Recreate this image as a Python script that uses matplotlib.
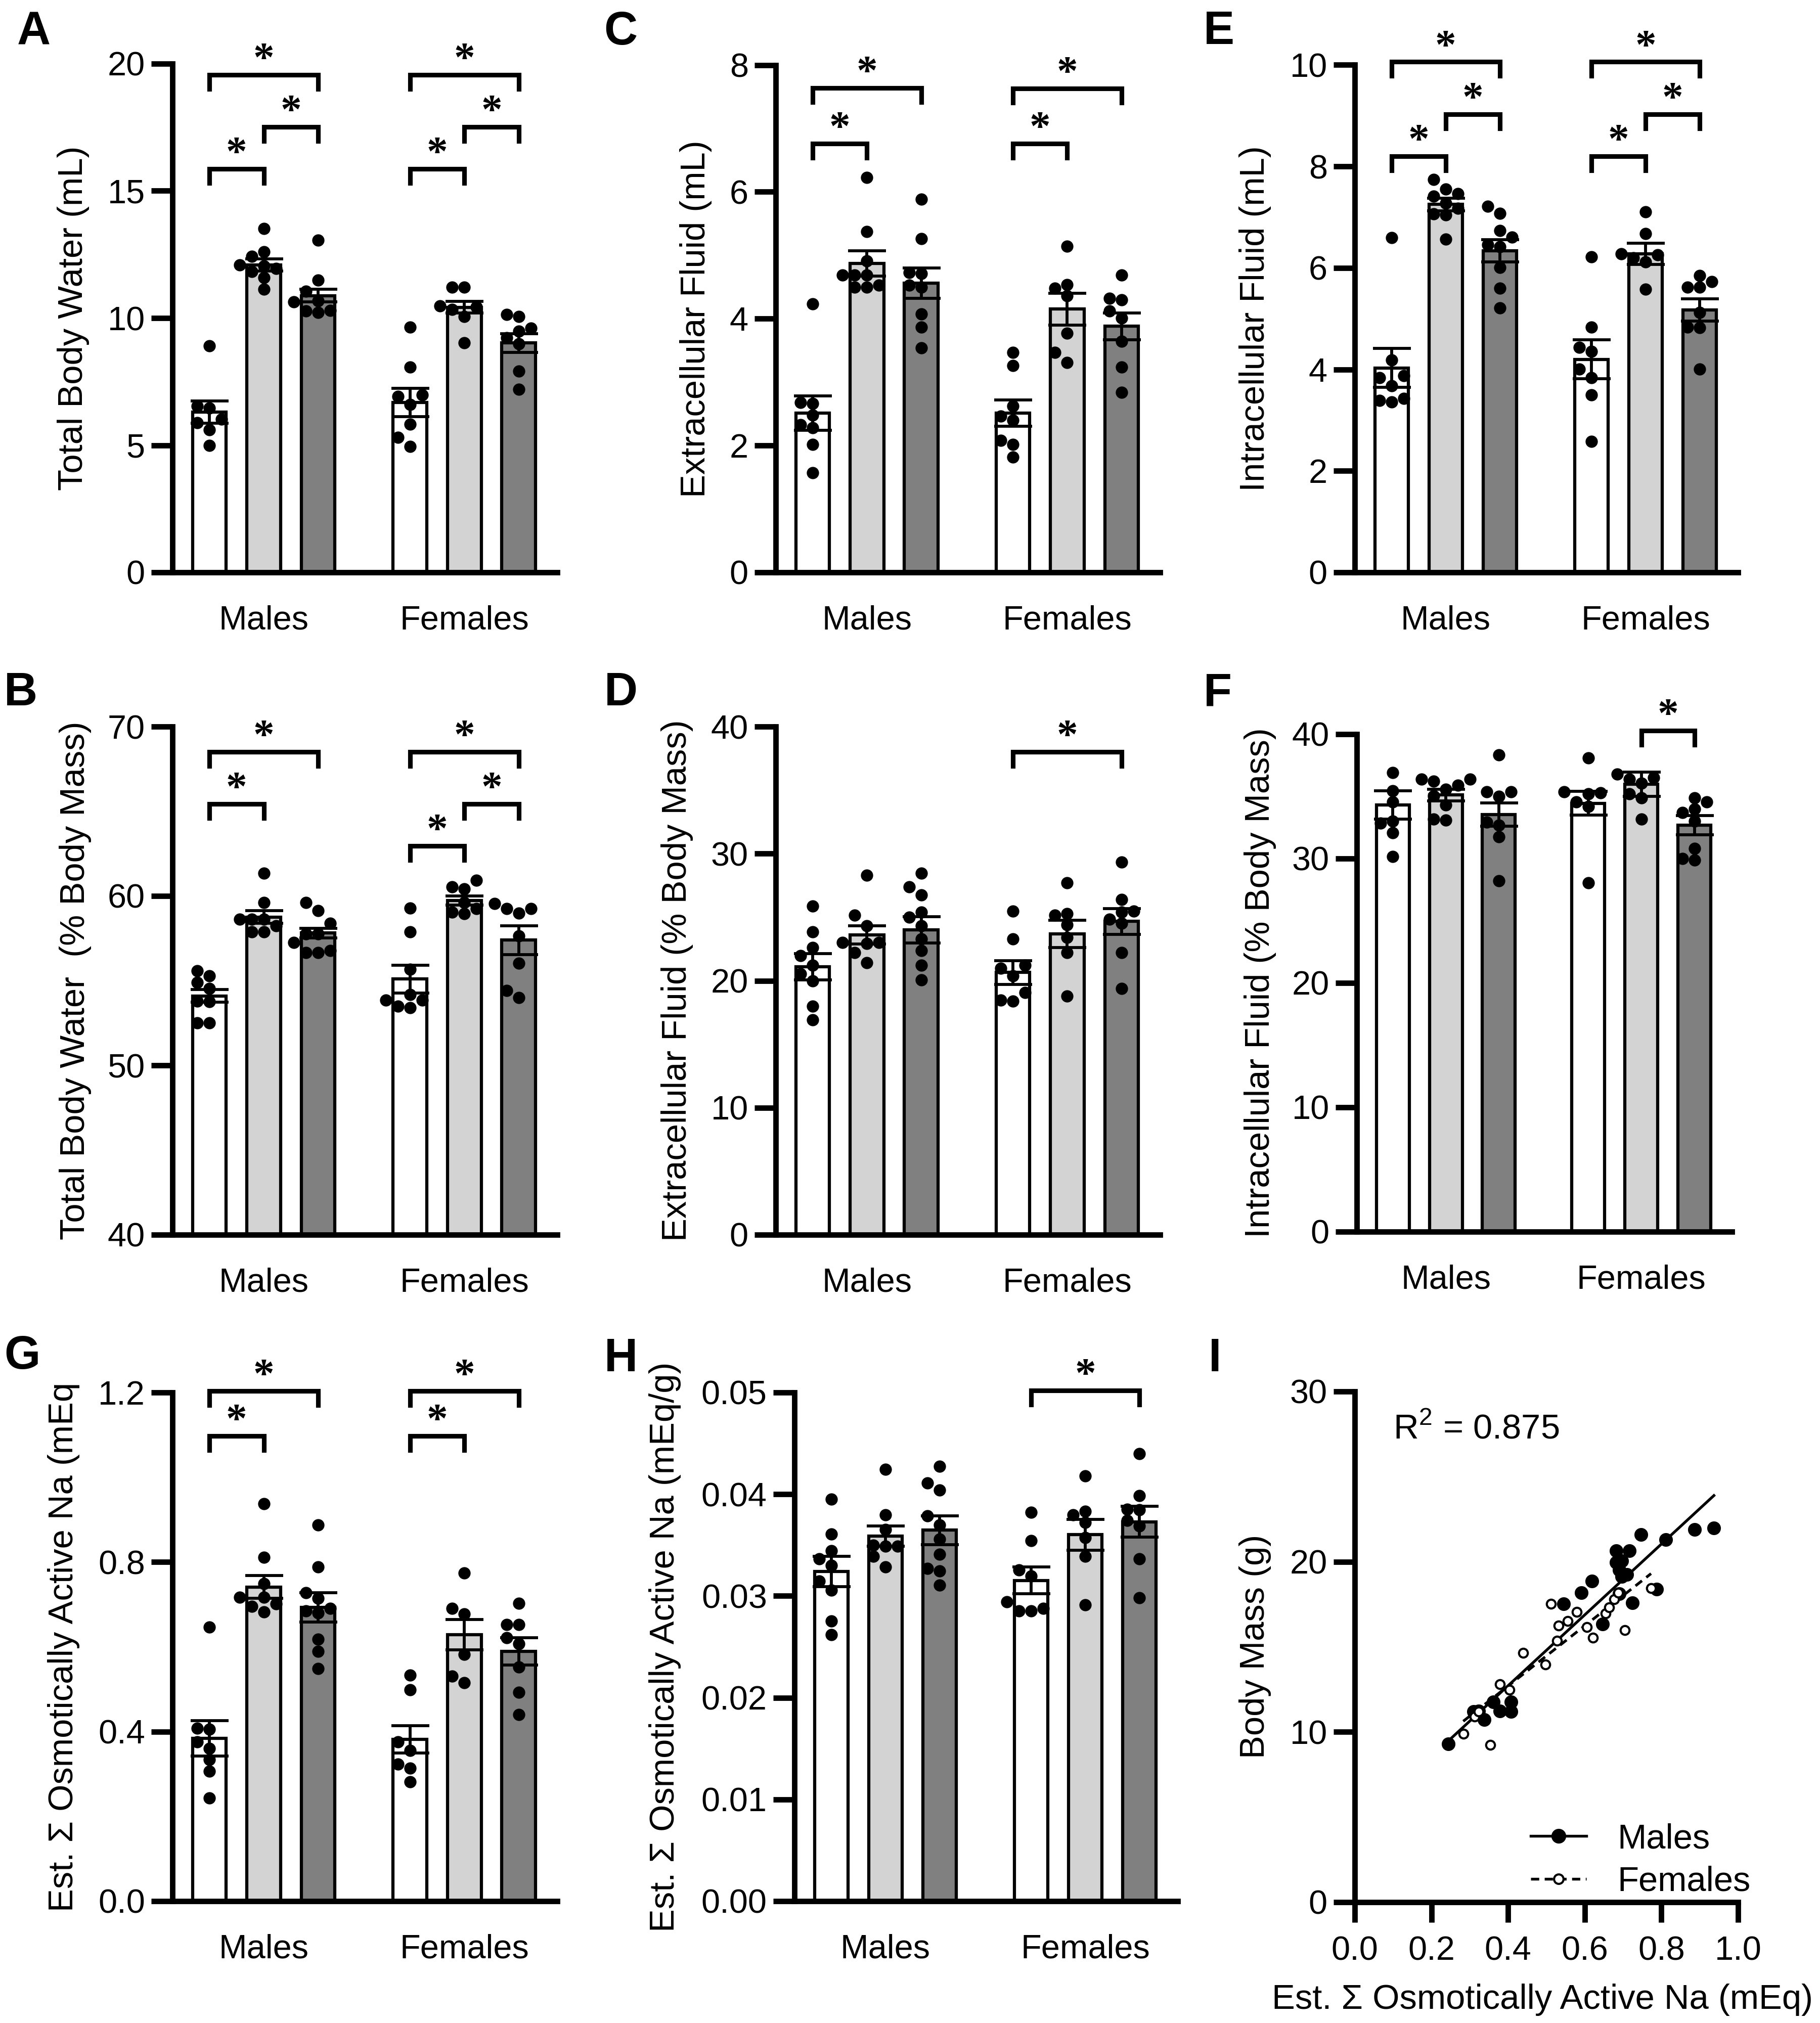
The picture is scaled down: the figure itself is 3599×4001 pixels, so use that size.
import numpy as np
import matplotlib
matplotlib.use('Agg')
import matplotlib.pyplot as plt
from matplotlib.lines import Line2D

plt.rcParams['font.family'] = 'Liberation Sans'
plt.rcParams['mathtext.fontset'] = 'custom'
plt.rcParams['mathtext.rm'] = 'Liberation Sans'
plt.rcParams['font.size'] = 16

W, H, DPI = 3599, 4001, 300

groups = ['Males', 'Females']
bar_colors = ['white', '#d3d3d3', '#808080']

# ---- A: total body water (mL)
tbw_ml_mean = [6.30, 12.09, 10.88, 6.68, 10.42, 9.02]
tbw_ml_sem = [0.43, 0.24, 0.25, 0.55, 0.23, 0.37]
tbw_ml_pts = [[8.90, 6.55, 6.46, 6.02, 5.89, 5.61, 5.00],
              [13.52, 12.61, 12.42, 12.09, 12.04, 11.95, 11.82, 11.59, 11.13],
              [13.07, 11.49, 11.05, 10.67, 10.63, 10.30, 10.27, 10.22],
              [9.65, 8.08, 6.97, 6.92, 6.60, 5.82, 5.31, 4.95],
              [11.21, 11.21, 10.47, 10.44, 10.34, 10.06, 9.02],
              [10.14, 10.06, 9.61, 9.48, 9.23, 8.99, 7.91, 7.20]]
tbw_ml_sig = [(0, 1, 15.86), (1, 2, 17.51), (0, 2, 19.57), (3, 4, 15.86), (4, 5, 17.51), (3, 5, 19.57)]

# ---- C: extracellular fluid (mL)
ecf_ml_mean = [2.51, 4.87, 4.56, 2.51, 4.15, 3.88]
ecf_ml_sem = [0.27, 0.20, 0.24, 0.21, 0.25, 0.21]
ecf_ml_pts = [[4.23, 2.68, 2.66, 2.48, 2.33, 2.28, 2.02, 1.57],
              [6.23, 5.37, 4.91, 4.69, 4.69, 4.69, 4.53, 4.50, 4.50],
              [5.88, 5.26, 4.73, 4.71, 4.53, 4.50, 4.07, 3.87, 3.54],
              [3.47, 3.26, 2.62, 2.46, 2.40, 2.08, 2.02, 1.82],
              [5.14, 4.54, 4.48, 4.36, 3.77, 3.47, 3.31],
              [4.69, 4.32, 4.30, 4.12, 4.01, 3.64, 3.24, 2.84]]
ecf_ml_sig = [(0, 1, 6.76), (0, 2, 7.64), (3, 4, 6.76), (3, 5, 7.63)]

# ---- E: intracellular fluid (mL)
icf_ml_mean = [4.03, 7.25, 6.34, 4.20, 6.28, 5.17]
icf_ml_sem = [0.38, 0.12, 0.22, 0.38, 0.21, 0.22]
icf_ml_pts = [[6.60, 4.19, 3.88, 3.84, 3.68, 3.43, 3.39, 3.36],
              [7.74, 7.55, 7.46, 7.41, 7.27, 7.17, 7.07, 7.05, 6.57],
              [7.21, 7.08, 6.74, 6.61, 6.46, 6.42, 6.01, 5.60, 5.21],
              [6.22, 4.83, 4.43, 4.35, 4.01, 3.84, 3.50, 2.58],
              [7.11, 6.68, 6.28, 6.26, 6.20, 6.12, 5.58],
              [5.85, 5.73, 5.62, 5.62, 5.12, 4.83, 4.82, 4.01]]
icf_ml_sig = [(0, 1, 8.20), (1, 2, 9.03), (0, 2, 10.06), (3, 4, 8.20), (4, 5, 9.03), (3, 5, 10.06)]

# ---- B: total body water (% body mass)
tbw_pct_mean = [54.10, 58.75, 57.81, 55.09, 59.74, 57.39]
tbw_pct_sem = [0.37, 0.37, 0.29, 0.83, 0.27, 0.84]
tbw_pct_pts = [[55.58, 55.29, 54.91, 54.54, 53.80, 53.75, 52.52, 52.52],
               [61.35, 59.61, 58.62, 58.62, 58.62, 58.25, 57.88, 57.88],
               [59.61, 59.12, 58.38, 57.76, 57.76, 57.26, 56.77, 56.65, 56.65],
               [59.29, 57.88, 55.66, 54.17, 53.85, 53.85, 53.50, 53.40],
               [60.93, 60.53, 60.43, 59.61, 59.24, 59.05, 58.95],
               [59.54, 59.24, 59.24, 59.00, 57.64, 56.03, 54.42, 54.00]]
tbw_pct_sig = [(0, 1, 65.43), (0, 2, 68.52), (3, 4, 62.95), (4, 5, 65.43), (3, 5, 68.52)]

# ---- D: extracellular fluid (% body mass)
ecf_pct_mean = [21.10, 23.61, 24.00, 20.64, 23.67, 24.66]
ecf_pct_sem = [1.04, 0.71, 1.04, 0.93, 1.08, 1.02]
ecf_pct_pts = [[25.88, 23.84, 22.62, 21.96, 21.20, 20.54, 19.98, 18.00, 16.91],
               [28.29, 25.16, 24.33, 23.01, 23.01, 22.91, 22.19, 21.43],
               [28.45, 27.37, 26.74, 25.39, 24.99, 24.33, 23.28, 22.35, 21.20, 20.05],
               [25.49, 23.28, 21.20, 20.97, 20.38, 19.06, 18.46, 18.40],
               [27.70, 25.26, 25.16, 24.40, 23.41, 22.19, 18.79],
               [29.34, 26.38, 25.49, 25.39, 24.83, 24.50, 22.19, 19.39]]
ecf_pct_sig = [(3, 5, 38.02)]

# ---- F: intracellular fluid (% body mass)
icf_pct_mean = [34.31, 35.11, 33.53, 34.44, 35.99, 32.69]
icf_pct_sem = [1.13, 0.47, 0.93, 0.96, 0.98, 0.76]
icf_pct_pts = [[36.90, 35.45, 34.54, 33.02, 32.86, 32.08, 30.16],
               [36.39, 36.39, 36.20, 35.89, 35.55, 35.05, 34.31, 33.19, 33.09],
               [38.32, 35.38, 35.38, 34.98, 32.92, 32.69, 31.74, 28.21],
               [38.08, 35.38, 35.28, 35.21, 34.54, 34.20, 28.04],
               [36.80, 36.50, 36.39, 36.06, 35.21, 34.88, 33.19],
               [34.88, 34.54, 33.97, 33.70, 33.02, 30.83, 29.99, 29.89]]
icf_pct_sig = [(4, 5, 40.27)]

# ---- G: est. osmotically active Na (mEq)
na_mean = [0.384, 0.741, 0.693, 0.382, 0.629, 0.589]
na_sem = [0.042, 0.027, 0.035, 0.032, 0.036, 0.032]
na_pts = [[0.646, 0.408, 0.405, 0.376, 0.360, 0.334, 0.307, 0.243],
          [0.938, 0.811, 0.749, 0.717, 0.717, 0.701, 0.696, 0.682],
          [0.888, 0.789, 0.728, 0.714, 0.691, 0.685, 0.680, 0.618, 0.589, 0.549],
          [0.533, 0.499, 0.376, 0.355, 0.323, 0.314, 0.282],
          [0.774, 0.691, 0.678, 0.582, 0.531, 0.515],
          [0.703, 0.653, 0.653, 0.621, 0.607, 0.552, 0.493, 0.440]]
na_sig = [(0, 1, 1.098), (0, 2, 1.204), (3, 4, 1.098), (3, 5, 1.204)]

# ---- H: est. osmotically active Na (mEq/g)
na_g_mean = [0.03242, 0.03588, 0.03646, 0.03153, 0.03601, 0.03730]
na_g_sem = [0.0015, 0.0010, 0.0014, 0.0013, 0.0015, 0.0015]
na_g_pts = [[0.03952, 0.03610, 0.03446, 0.03366, 0.03299, 0.03144, 0.03055, 0.02753, 0.02620],
            [0.04245, 0.03797, 0.03655, 0.03500, 0.03490, 0.03490, 0.03388, 0.03286],
            [0.04276, 0.04112, 0.04041, 0.03788, 0.03699, 0.03557, 0.03410, 0.03268, 0.03246, 0.03108],
            [0.03823, 0.03543, 0.03255, 0.03197, 0.02944, 0.02877, 0.02855, 0.02855],
            [0.04178, 0.03832, 0.03797, 0.03721, 0.03575, 0.03388, 0.02913],
            [0.04400, 0.03988, 0.03854, 0.03845, 0.03743, 0.03686, 0.03366, 0.02980]]
na_g_sig = [(3, 5, 0.0502)]

# ---- I: body mass vs Na
males_na = [0.244, 0.310, 0.323, 0.338, 0.361, 0.379, 0.407, 0.407, 0.545, 0.591, 0.619, 0.646, 0.682,
            0.682, 0.697, 0.717, 0.690, 0.710, 0.697, 0.690, 0.724, 0.747, 0.788, 0.811, 0.886, 0.937]
males_bm = [9.29, 11.20, 11.23, 10.70, 11.76, 11.23, 11.76, 11.20, 17.52, 18.18, 18.85, 16.33, 20.65,
            19.96, 20.04, 20.65, 19.51, 19.25, 19.11, 18.10, 17.57, 21.58, 18.37, 21.29, 21.90, 21.98]
females_na = [0.283, 0.313, 0.323, 0.354, 0.379, 0.404, 0.439, 0.498, 0.512, 0.528, 0.532, 0.556, 0.579,
              0.606, 0.621, 0.654, 0.664, 0.677, 0.687, 0.704, 0.773]
females_bm = [9.88, 10.88, 11.20, 9.24, 12.80, 12.48, 14.65, 13.94, 17.52, 15.34, 16.25, 16.51, 17.04,
              16.14, 15.53, 16.94, 17.31, 17.79, 18.18, 15.98, 18.45]
r2_text = 'R$^2$ = 0.875'

bar_x = np.array([0, 1, 2, 3.69, 4.69, 5.69])
XLIM = (-0.68, 6.4)

fig = plt.figure(figsize=(W / DPI, H / DPI), dpi=DPI)


def add_axes_px(x0, x1, ytop, ybot):
    return fig.add_axes([x0 / W, 1 - ybot / H, (x1 - x0) / W, (ybot - ytop) / H])


def swarm(vals, ppy, ppx, step=24, diam=21):
    # simple column swarm so dots don't pile up
    vals = np.asarray(vals)
    placed = []
    offs = np.zeros(len(vals))
    cands = [0]
    for n in range(1, 8):
        cands += [-n * step, n * step]
    for i in np.argsort(vals):
        py = vals[i] * ppy
        for c in cands:
            if all((c - px) ** 2 + (py - qy) ** 2 >= diam ** 2 for px, qy in placed):
                break
        placed.append((c, py))
        offs[i] = c / ppx
    return offs


def style_axes(ax):
    for s in ['top', 'right']:
        ax.spines[s].set_visible(False)
    for s in ['left', 'bottom']:
        ax.spines[s].set_linewidth(2.6)
    ax.tick_params(axis='y', length=10, width=2.6, pad=3, labelsize=16)


def bar_panel(box, means, sems, points, ylim, yticks, yticklabels, ylabel, ylabel_cx, sig):
    x0, x1, ytop, ybot = box
    ax = add_axes_px(*box)
    ax.set_xlim(XLIM)
    ax.set_ylim(ylim)
    ppx = (x1 - x0) / (XLIM[1] - XLIM[0])
    ppy = (ybot - ytop) / (ylim[1] - ylim[0])
    ax.bar(bar_x, means, width=0.62, color=bar_colors * 2, edgecolor='black', linewidth=1.5, zorder=2)
    for xc, vals in zip(bar_x, points):
        offs = swarm(vals, ppy, ppx)
        ax.scatter(xc + offs, vals, s=34, color='black', linewidths=0, zorder=3, clip_on=False)
    ax.errorbar(bar_x, means, yerr=sems, fmt='none', ecolor='black', elinewidth=1.4,
                capsize=9, capthick=1.4, zorder=4)
    leg = 28 / ppy
    for i, j, yb in sig:
        ax.plot([bar_x[i], bar_x[i], bar_x[j], bar_x[j]], [yb - leg, yb, yb, yb - leg],
                color='black', lw=2.2, clip_on=False, solid_joinstyle='miter')
        ax.annotate('*', xy=((bar_x[i] + bar_x[j]) / 2, yb), xytext=(0, 1.9),
                    textcoords='offset points', ha='center', va='baseline',
                    fontsize=20, family='Liberation Serif', fontweight='bold',
                    annotation_clip=False)
    style_axes(ax)
    ax.set_yticks(yticks)
    ax.set_yticklabels(yticklabels)
    ax.set_xticks([1, 4.69])
    ax.set_xticklabels(groups)
    ax.tick_params(axis='x', length=0, pad=15.5, labelsize=16)
    ax.set_ylabel(ylabel, fontsize=16.5, va='center')
    ax.yaxis.set_label_coords((ylabel_cx - x0) / (x1 - x0), 0.5)
    return ax


bar_panel((341, 1102, 126, 1132), tbw_ml_mean, tbw_ml_sem, tbw_ml_pts, (0, 20),
          [0, 5, 10, 15, 20], ['0', '5', '10', '15', '20'], 'Total Body Water (mL)', 145, tbw_ml_sig)
bar_panel((1534, 2294, 128.5, 1132), ecf_ml_mean, ecf_ml_sem, ecf_ml_pts, (0, 8),
          [0, 2, 4, 6, 8], ['0', '2', '4', '6', '8'], 'Extracellular Fluid (mL)', 1376, ecf_ml_sig)
bar_panel((2679, 3437, 128.5, 1132), icf_ml_mean, icf_ml_sem, icf_ml_pts, (0, 10),
          [0, 2, 4, 6, 8, 10], ['0', '2', '4', '6', '8', '10'], 'Intracellular Fluid (mL)', 2482, icf_ml_sig)
bar_panel((341, 1102, 1437, 2442), tbw_pct_mean, tbw_pct_sem, tbw_pct_pts, (40, 70),
          [40, 50, 60, 70], ['40', '50', '60', '70'], 'Total Body Water  (% Body Mass)', 149, tbw_pct_sig)
bar_panel((1534, 2294, 1437, 2442), ecf_pct_mean, ecf_pct_sem, ecf_pct_pts, (0, 40),
          [0, 10, 20, 30, 40], ['0', '10', '20', '30', '40'], 'Extracellular Fluid (% Body Mass)', 1339,
          ecf_pct_sig)
bar_panel((2683, 3425, 1452, 2436), icf_pct_mean, icf_pct_sem, icf_pct_pts, (0, 40),
          [0, 10, 20, 30, 40], ['0', '10', '20', '30', '40'], 'Intracellular Fluid (% Body Mass)', 2492,
          icf_pct_sig)
bar_panel((341, 1102, 2754, 3760), na_mean, na_sem, na_pts, (0, 1.2),
          [0, 0.4, 0.8, 1.2], ['0.0', '0.4', '0.8', '1.2'], 'Est. Σ Osmotically Active Na (mEq', 126, na_sig)
bar_panel((1571, 2329, 2754, 3760), na_g_mean, na_g_sem, na_g_pts, (0, 0.05),
          [0, 0.01, 0.02, 0.03, 0.04, 0.05], ['0.00', '0.01', '0.02', '0.03', '0.04', '0.05'],
          'Est. Σ Osmotically Active Na (mEq/g)', 1315, na_g_sig)

# ---- panel I
x0, x1, ytop, ybot = 2679, 3437, 2752, 3761.5
axi = add_axes_px(x0, x1, ytop, ybot)
axi.set_xlim(0, 1.0)
axi.set_ylim(0, 30)
for xs, ys, ls in [(males_na, males_bm, '-'), (females_na, females_bm, '--')]:
    k, b = np.polyfit(xs, ys, 1)
    xx = np.array([min(xs), max(xs)])
    axi.plot(xx, k * xx + b, color='black', lw=1.3, ls=ls, dashes=(3, 2) if ls == '--' else (None, None),
             zorder=2)
axi.plot(males_na, males_bm, 'o', ms=5.5, color='black', zorder=3, clip_on=False)
axi.plot(females_na, females_bm, 'o', ms=4.2, mfc='white', mec='black', mew=1.0, zorder=4, clip_on=False)
style_axes(axi)
axi.tick_params(axis='x', length=9.6, width=2.6, pad=6.5, labelsize=16)
axi.set_xticks([0, 0.2, 0.4, 0.6, 0.8, 1.0])
axi.set_xticklabels(['0.0', '0.2', '0.4', '0.6', '0.8', '1.0'])
axi.set_yticks([0, 10, 20, 30])
axi.set_ylabel('Body Mass (g)', fontsize=16.5, va='center')
axi.yaxis.set_label_coords((2482 - x0) / (x1 - x0), 0.5)
axi.set_xlabel('Est. Σ Osmotically Active Na (mEq)', fontsize=16.5, va='center')
axi.xaxis.set_label_coords((3050 - x0) / (x1 - x0), (ybot - 3955) / (ybot - ytop))
axi.text(0.10, 0.925, r2_text, transform=axi.transAxes, fontsize=16.5, va='center', ha='left')
handles = [Line2D([], [], color='black', lw=1.3, marker='o', ms=6, mfc='black'),
           Line2D([], [], color='black', lw=1.3, ls='--', dashes=(3, 2), marker='o', ms=4.5,
                  mfc='white', mec='black', mew=1.0)]
axi.legend(handles, groups, loc='upper left', bbox_to_anchor=(3027 / W, 1 - 3605 / H),
           bbox_transform=fig.transFigure, frameon=False, borderpad=0, borderaxespad=0,
           handlelength=1.6, handletextpad=0.9, labelspacing=0.3, fontsize=16.5)

# panel letters
letters = ['A', 'C', 'E', 'B', 'D', 'F', 'G', 'H', 'I']
letter_xy = [(34, 87), (1194, 88), (2380, 87), (8, 1395), (1195, 1395), (2380, 1396),
             (8, 2707), (1195, 2712), (2390, 2712)]
for t, (lx, ly) in zip(letters, letter_xy):
    fig.text(lx / W, 1 - ly / H, t, fontsize=22, fontweight='bold', ha='left', va='baseline')

fig.savefig('out.png', dpi=DPI)
